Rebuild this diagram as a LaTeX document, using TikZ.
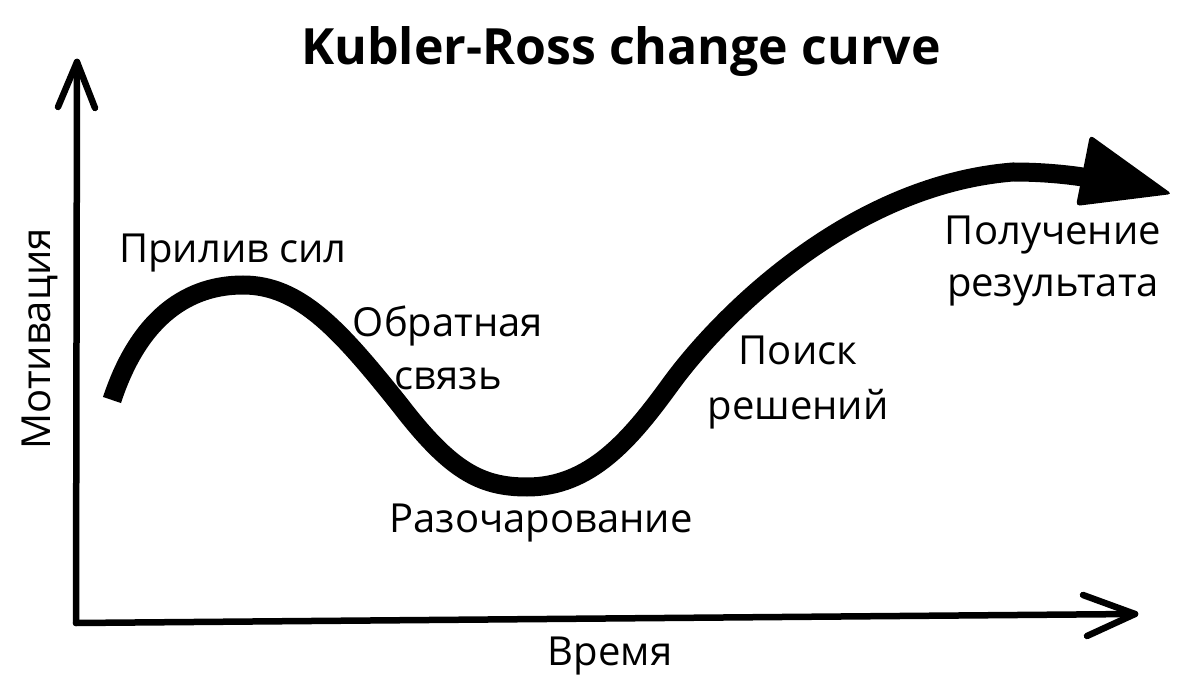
\documentclass[tikz,border=0pt]{standalone}
\usepackage{fontspec}
\setmainfont{Open Sans}
\usepackage{tikz}

\begin{document}
\begin{tikzpicture}[x=1pt, y=-1pt,
    lbl/.style={anchor=base, inner sep=0pt, font=\fontsize{40}{54}\selectfont},
    axis/.style={line width=6.5pt, line cap=round, line join=round}]
    \useasboundingbox[fill=white] (0,0) rectangle (1200,700);
    % axes
    \coordinate (o) at (76,623);
    \coordinate (ytop) at (77,62);
    \coordinate (xend) at (1135,614);
    \draw[axis] (o) -- (ytop);
    \draw[axis] ([shift={(-19,45)}]ytop) -- (ytop) -- ([shift={(18,46)}]ytop);
    \draw[axis] (o) -- (xend);
    \draw[axis] ([shift={(-52,-19)}]xend) -- (xend) -- ([shift={(-48,22)}]xend);
    % curve
    \draw[line width=19pt] (112,400) .. controls (140,315) and (190,285) .. (243,285)
        .. controls (300,285) and (340,330) .. (400,405)
        .. controls (450,470) and (480,487) .. (527,487)
        .. controls (590,487) and (630,440) .. (670,385)
        .. controls (720,316) and (850,185) .. (1013,172)
        .. controls (1050,172) and (1080,176) .. (1100,180);
    \fill[rounded corners=4pt] (1090,135) -- (1172,194) -- (1076,206) -- cycle;
    % labels
    \node[anchor=base, inner sep=0pt, font=\fontsize{50}{60}\selectfont\bfseries] (title) at (621,65) {Kubler-Ross change curve};
    \node[lbl] (surge) at (233,263) {Прилив сил};
    \node[lbl] (fb1) at (448,337) {Обратная};
    \node[lbl] (fb2) at (448,390) {связь};
    \node[lbl] (disap) at (541,532) {Разочарование};
    \node[lbl] (srch1) at (798,365) {Поиск};
    \node[lbl] (srch2) at (798,420) {решений};
    \node[lbl] (res1) at (1053,245) {Получение};
    \node[lbl] (res2) at (1053,297) {результата};
    \node[lbl] (time) at (610,665) {Время};
    \node[lbl, rotate=90] (motiv) at (50,339) {Мотивация};
\end{tikzpicture}
\end{document}
